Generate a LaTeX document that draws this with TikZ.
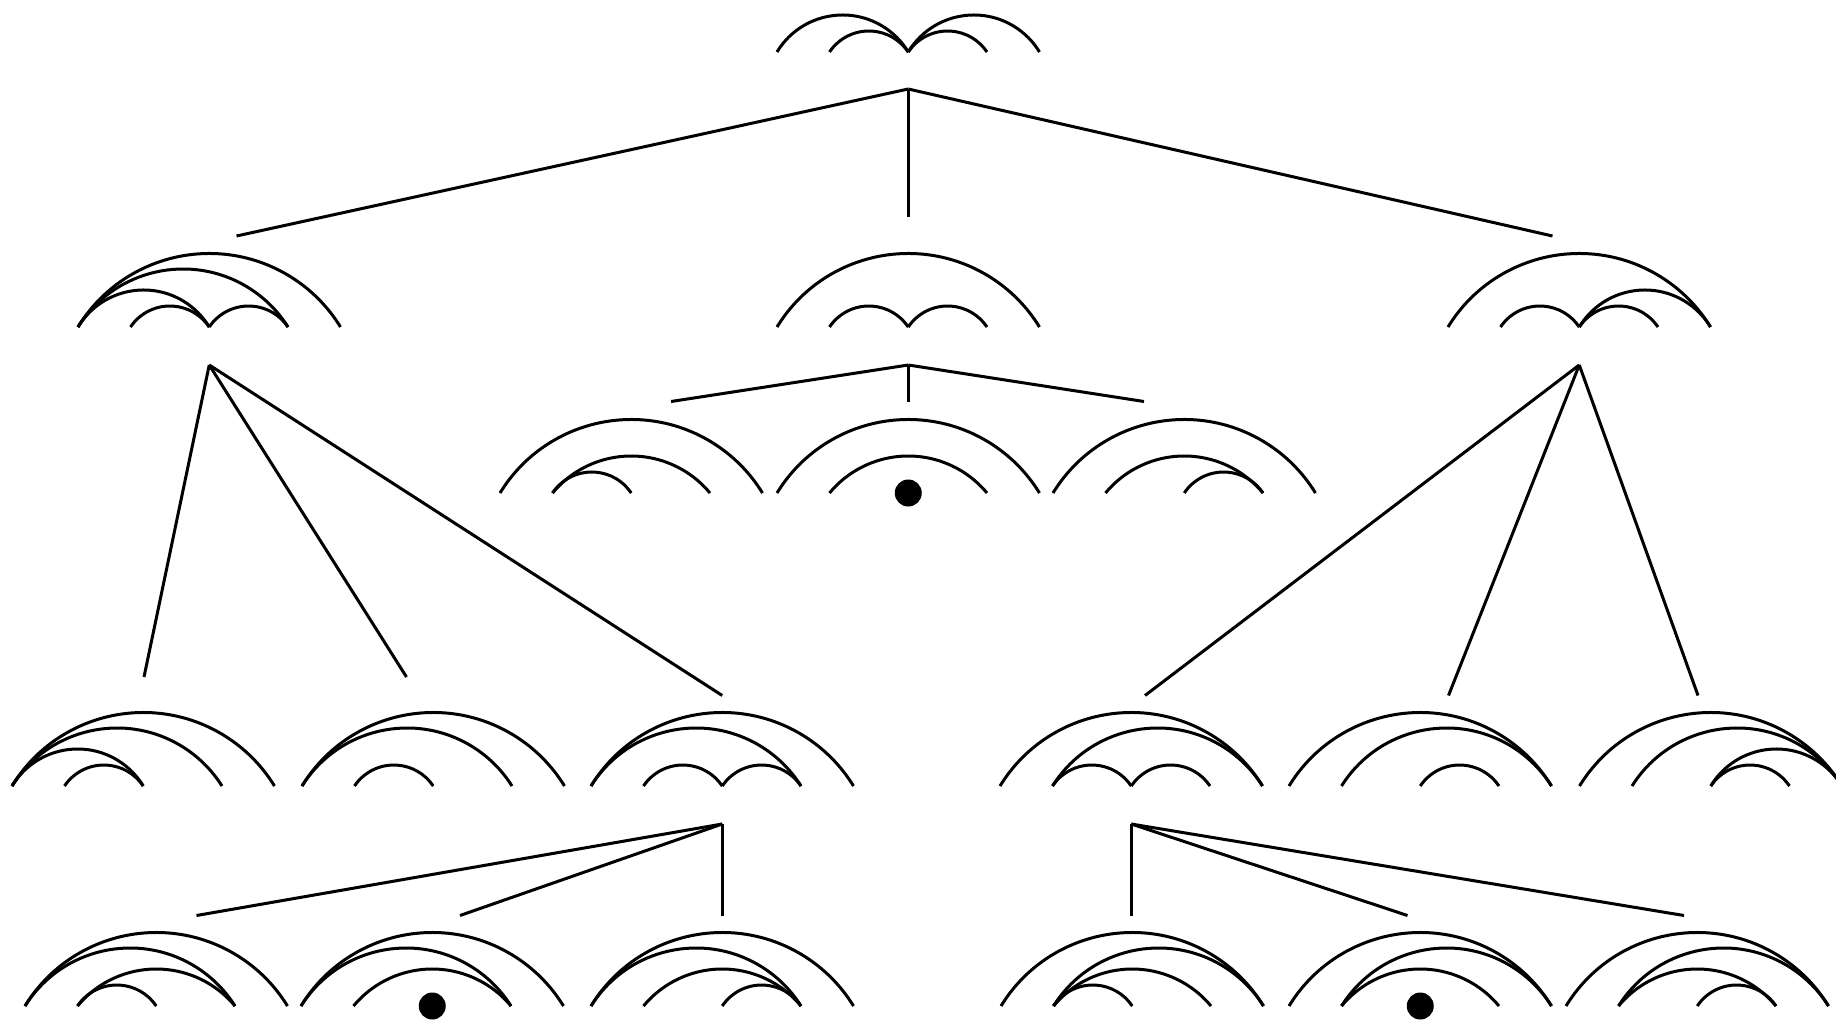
\documentclass[tikz,border=0pt]{standalone}
\tikzset{
  chord/.style={line width=1.5pt},
  link/.style={line width=1.5pt},
  pointdot/.style={fill=black}
}
% #1 left x, #2 baseline y, #3 list of arcs i/j between the five points
\newcommand\chorddiag[3]{%
  \foreach \ci/\cj in {#3}{%
    \pgfmathsetmacro\xa{#1+{0,52.5,131.25,210,262.5}[\ci-1]}%
    \pgfmathsetmacro\xb{#1+{0,52.5,131.25,210,262.5}[\cj-1]}%
    \pgfmathsetmacro\hh{{21,37,58,73.5}[\cj-\ci-1]}%
    \pgfmathsetmacro\ww{\xb-\xa}%
    \pgfmathsetmacro\rr{(\ww/8)*(\ww/\hh)+\hh/2}%
    \pgfmathsetmacro\th{asin(\ww/(2*\rr))}%
    \draw[chord] (\xa,#2) arc[start angle=270-\th,end angle=270+\th,radius=\rr];%
  }}
\begin{document}
\begin{tikzpicture}[x=0.5pt,y=-0.5pt]
\useasboundingbox (0,0) rectangle (1836,1022);

% ---- diagrams ----
% level 1
\chorddiag{777}{52}{1/3,2/3,3/4,3/5}
% level 2
\chorddiag{78}{327}{1/5,1/4,1/3,2/3,3/4}
\chorddiag{777}{327}{1/5,2/3,3/4}
\chorddiag{1448}{327}{1/5,2/3,3/4,3/5}
% level 3
\chorddiag{500}{493}{1/5,2/4,2/3}
\chorddiag{777}{493}{1/5,2/4}
\fill[pointdot] (908.25,493) circle[radius=13.5];
\chorddiag{1053}{493}{1/5,2/4,3/4}
% level 4
\chorddiag{12}{786}{1/5,1/4,1/3,2/3}
\chorddiag{302}{786}{1/5,1/4,2/3}
\chorddiag{591}{786}{1/5,1/4,2/3,3/4}
\chorddiag{1000}{786}{1/5,2/5,2/3,3/4}
\chorddiag{1289}{786}{1/5,2/5,3/4}
\chorddiag{1579.5}{786}{1/5,2/5,3/5,3/4}
% level 5
\chorddiag{25}{1006}{1/5,1/4,2/4,2/3}
\chorddiag{301}{1006}{1/5,1/4,2/4}
\fill[pointdot] (432.25,1006) circle[radius=13.5];
\chorddiag{591}{1006}{1/5,1/4,2/4,3/4}
\chorddiag{1001}{1006}{1/5,2/5,2/4,2/3}
\chorddiag{1289}{1006}{1/5,2/5,2/4}
\fill[pointdot] (1420.25,1006) circle[radius=13.5];
\chorddiag{1566}{1006}{1/5,2/5,2/4,3/4}

% ---- connector coordinates ----
\coordinate (r)  at (908.25,89);
\coordinate (rA) at (236.5,236);
\coordinate (rB) at (908.25,217);
\coordinate (rC) at (1552.5,236);

\coordinate (a)  at (209.25,365);
\coordinate (aA) at (144,677);
\coordinate (aB) at (406.5,677);
\coordinate (aC) at (722.25,695.5);

\coordinate (b)  at (908.25,365);
\coordinate (bA) at (671,401.5);
\coordinate (bB) at (908.25,401.5);
\coordinate (bC) at (1144,401.5);

\coordinate (c)  at (1579.25,365);
\coordinate (cA) at (1145,695.5);
\coordinate (cB) at (1448.5,695.5);
\coordinate (cC) at (1698,695.5);

\coordinate (d)  at (722.25,824);
\coordinate (dA) at (196.5,915.5);
\coordinate (dB) at (460,915.5);
\coordinate (dC) at (722.25,915.5);

\coordinate (e)  at (1131.25,824);
\coordinate (eA) at (1131.25,915.5);
\coordinate (eB) at (1407.5,915.5);
\coordinate (eC) at (1684,915.5);

% ---- connectors ----
\foreach \v in {r,a,b,c,d,e}{
  \draw[link] (\v) -- (\v A);
  \draw[link] (\v) -- (\v B);
  \draw[link] (\v) -- (\v C);
}
\end{tikzpicture}
\end{document}
